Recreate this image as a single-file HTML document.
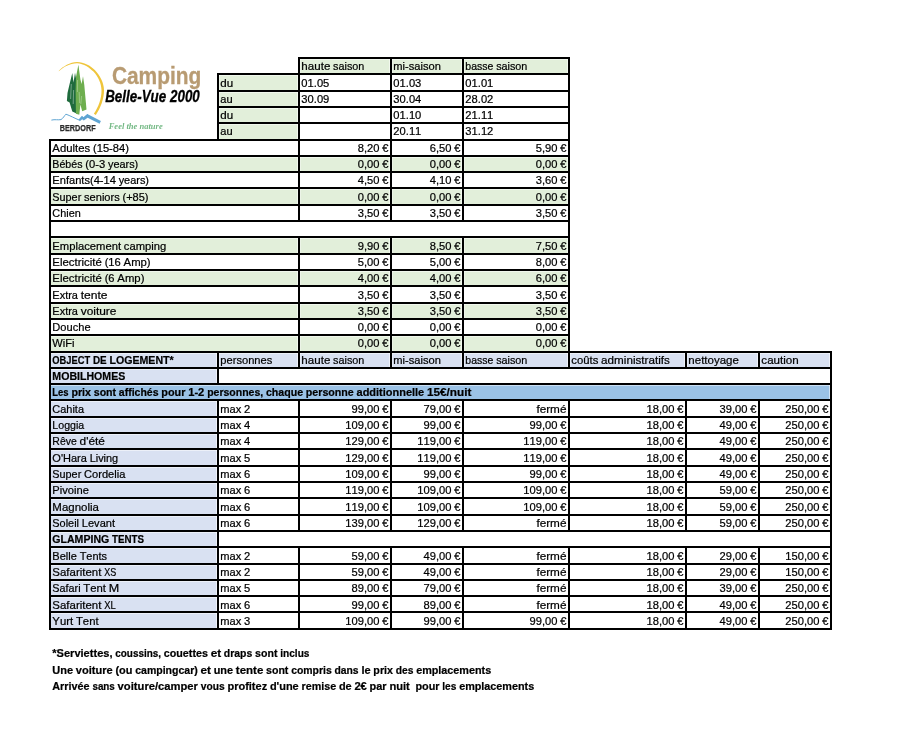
<!DOCTYPE html>
<html lang="fr"><head><meta charset="utf-8"><title>Camping Belle-Vue 2000 - Tarifs</title>
<style>
html,body{margin:0;padding:0;background:#fff;}
body{width:897px;height:747px;overflow:hidden;}
svg{display:block;}
text{font-family:"Liberation Sans",sans-serif;font-kerning:none;font-size:11.4px;fill:#000;stroke:#000;stroke-width:0.22px;}
text.b{font-weight:bold;font-size:11.1px;}
</style></head><body>
<svg width="897" height="747" viewBox="0 0 897 747">
<rect width="897" height="747" fill="#fff"/>
<g id="fills">
<rect x="300.35" y="59.50" width="89.10" height="14.50" fill="#e2efda"/>
<rect x="392.35" y="59.50" width="69.10" height="14.50" fill="#e2efda"/>
<rect x="464.35" y="59.50" width="103.10" height="14.50" fill="#e2efda"/>
<rect x="219.35" y="75.50" width="78.10" height="15.50" fill="#e2efda"/>
<rect x="219.35" y="92.50" width="78.10" height="14.50" fill="#e2efda"/>
<rect x="219.35" y="108.50" width="78.10" height="14.50" fill="#e2efda"/>
<rect x="219.35" y="124.50" width="78.10" height="15.50" fill="#e2efda"/>
<rect x="50.00" y="157.50" width="247.45" height="14.50" fill="#e2efda"/>
<rect x="300.35" y="157.50" width="89.10" height="14.50" fill="#e2efda"/>
<rect x="392.35" y="157.50" width="69.10" height="14.50" fill="#e2efda"/>
<rect x="464.35" y="157.50" width="103.10" height="14.50" fill="#e2efda"/>
<rect x="50.00" y="189.50" width="247.45" height="15.50" fill="#e2efda"/>
<rect x="300.35" y="189.50" width="89.10" height="15.50" fill="#e2efda"/>
<rect x="392.35" y="189.50" width="69.10" height="15.50" fill="#e2efda"/>
<rect x="464.35" y="189.50" width="103.10" height="15.50" fill="#e2efda"/>
<rect x="50.00" y="238.50" width="247.45" height="15.50" fill="#e2efda"/>
<rect x="300.35" y="238.50" width="89.10" height="15.50" fill="#e2efda"/>
<rect x="392.35" y="238.50" width="69.10" height="15.50" fill="#e2efda"/>
<rect x="464.35" y="238.50" width="103.10" height="15.50" fill="#e2efda"/>
<rect x="50.00" y="271.50" width="247.45" height="14.50" fill="#e2efda"/>
<rect x="300.35" y="271.50" width="89.10" height="14.50" fill="#e2efda"/>
<rect x="392.35" y="271.50" width="69.10" height="14.50" fill="#e2efda"/>
<rect x="464.35" y="271.50" width="103.10" height="14.50" fill="#e2efda"/>
<rect x="50.00" y="304.50" width="247.45" height="14.50" fill="#e2efda"/>
<rect x="300.35" y="304.50" width="89.10" height="14.50" fill="#e2efda"/>
<rect x="392.35" y="304.50" width="69.10" height="14.50" fill="#e2efda"/>
<rect x="464.35" y="304.50" width="103.10" height="14.50" fill="#e2efda"/>
<rect x="50.00" y="336.50" width="247.45" height="15.50" fill="#e2efda"/>
<rect x="300.35" y="336.50" width="89.10" height="15.50" fill="#e2efda"/>
<rect x="392.35" y="336.50" width="69.10" height="15.50" fill="#e2efda"/>
<rect x="464.35" y="336.50" width="103.10" height="15.50" fill="#e2efda"/>
<rect x="50.00" y="353.50" width="166.45" height="14.50" fill="#d9e1f2"/>
<rect x="219.35" y="353.50" width="78.10" height="14.50" fill="#d9e1f2"/>
<rect x="300.35" y="353.50" width="89.10" height="14.50" fill="#d9e1f2"/>
<rect x="392.35" y="353.50" width="69.10" height="14.50" fill="#d9e1f2"/>
<rect x="464.35" y="353.50" width="103.10" height="14.50" fill="#d9e1f2"/>
<rect x="570.35" y="353.50" width="114.10" height="14.50" fill="#d9e1f2"/>
<rect x="687.35" y="353.50" width="70.10" height="14.50" fill="#d9e1f2"/>
<rect x="760.35" y="353.50" width="69.10" height="14.50" fill="#d9e1f2"/>
<rect x="50.00" y="369.50" width="166.45" height="14.50" fill="#d9e1f2"/>
<rect x="50.00" y="385.50" width="779.45" height="14.50" fill="#9bc2e6"/>
<rect x="50.00" y="401.50" width="166.45" height="15.50" fill="#d9e1f2"/>
<rect x="50.00" y="418.50" width="166.45" height="14.50" fill="#d9e1f2"/>
<rect x="50.00" y="434.50" width="166.45" height="14.50" fill="#d9e1f2"/>
<rect x="50.00" y="450.50" width="166.45" height="15.50" fill="#d9e1f2"/>
<rect x="50.00" y="467.50" width="166.45" height="14.50" fill="#d9e1f2"/>
<rect x="50.00" y="483.50" width="166.45" height="14.50" fill="#d9e1f2"/>
<rect x="50.00" y="499.50" width="166.45" height="15.50" fill="#d9e1f2"/>
<rect x="50.00" y="516.50" width="166.45" height="14.50" fill="#d9e1f2"/>
<rect x="50.00" y="532.50" width="166.45" height="14.50" fill="#d9e1f2"/>
<rect x="50.00" y="548.50" width="166.45" height="15.50" fill="#d9e1f2"/>
<rect x="50.00" y="565.50" width="166.45" height="14.50" fill="#d9e1f2"/>
<rect x="50.00" y="581.50" width="166.45" height="14.50" fill="#d9e1f2"/>
<rect x="50.00" y="597.50" width="166.45" height="14.50" fill="#d9e1f2"/>
<rect x="50.00" y="613.50" width="166.45" height="15.50" fill="#d9e1f2"/>
</g>
<g id="grid" fill="#000">
<rect x="298.00" y="57.00" width="272.00" height="2"/>
<rect x="217.00" y="73.00" width="353.00" height="2"/>
<rect x="217.00" y="90.00" width="353.00" height="2"/>
<rect x="217.00" y="106.00" width="353.00" height="2"/>
<rect x="217.00" y="122.00" width="353.00" height="2"/>
<rect x="49.00" y="139.00" width="521.00" height="2"/>
<rect x="49.00" y="155.00" width="521.00" height="2"/>
<rect x="49.00" y="171.00" width="521.00" height="2"/>
<rect x="49.00" y="187.00" width="521.00" height="2"/>
<rect x="49.00" y="204.00" width="521.00" height="2"/>
<rect x="49.00" y="220.00" width="521.00" height="2"/>
<rect x="49.00" y="236.00" width="521.00" height="2"/>
<rect x="49.00" y="253.00" width="521.00" height="2"/>
<rect x="49.00" y="269.00" width="521.00" height="2"/>
<rect x="49.00" y="285.00" width="521.00" height="2"/>
<rect x="49.00" y="302.00" width="521.00" height="2"/>
<rect x="49.00" y="318.00" width="521.00" height="2"/>
<rect x="49.00" y="334.00" width="521.00" height="2"/>
<rect x="49.00" y="351.00" width="783.00" height="2"/>
<rect x="49.00" y="367.00" width="783.00" height="2"/>
<rect x="49.00" y="383.00" width="783.00" height="2"/>
<rect x="49.00" y="399.00" width="783.00" height="2"/>
<rect x="49.00" y="416.00" width="783.00" height="2"/>
<rect x="49.00" y="432.00" width="783.00" height="2"/>
<rect x="49.00" y="448.00" width="783.00" height="2"/>
<rect x="49.00" y="465.00" width="783.00" height="2"/>
<rect x="49.00" y="481.00" width="783.00" height="2"/>
<rect x="49.00" y="497.00" width="783.00" height="2"/>
<rect x="49.00" y="514.00" width="783.00" height="2"/>
<rect x="49.00" y="530.00" width="783.00" height="2"/>
<rect x="49.00" y="546.00" width="783.00" height="2"/>
<rect x="49.00" y="563.00" width="783.00" height="2"/>
<rect x="49.00" y="579.00" width="783.00" height="2"/>
<rect x="49.00" y="595.00" width="783.00" height="2"/>
<rect x="49.00" y="611.00" width="783.00" height="2"/>
<rect x="49.00" y="628.00" width="783.00" height="2"/>
<rect x="49.00" y="139.00" width="2" height="491.00"/>
<rect x="217.00" y="73.00" width="2" height="68.00"/>
<rect x="217.00" y="351.00" width="2" height="34.00"/>
<rect x="217.00" y="399.00" width="2" height="231.00"/>
<rect x="298.00" y="57.00" width="2" height="165.00"/>
<rect x="298.00" y="236.00" width="2" height="133.00"/>
<rect x="298.00" y="399.00" width="2" height="133.00"/>
<rect x="298.00" y="546.00" width="2" height="84.00"/>
<rect x="390.00" y="57.00" width="2" height="165.00"/>
<rect x="390.00" y="236.00" width="2" height="133.00"/>
<rect x="390.00" y="399.00" width="2" height="133.00"/>
<rect x="390.00" y="546.00" width="2" height="84.00"/>
<rect x="462.00" y="57.00" width="2" height="165.00"/>
<rect x="462.00" y="236.00" width="2" height="133.00"/>
<rect x="462.00" y="399.00" width="2" height="133.00"/>
<rect x="462.00" y="546.00" width="2" height="84.00"/>
<rect x="568.00" y="57.00" width="2" height="312.00"/>
<rect x="568.00" y="399.00" width="2" height="133.00"/>
<rect x="568.00" y="546.00" width="2" height="84.00"/>
<rect x="685.00" y="351.00" width="2" height="18.00"/>
<rect x="685.00" y="399.00" width="2" height="133.00"/>
<rect x="685.00" y="546.00" width="2" height="84.00"/>
<rect x="758.00" y="351.00" width="2" height="18.00"/>
<rect x="758.00" y="399.00" width="2" height="133.00"/>
<rect x="758.00" y="546.00" width="2" height="84.00"/>
<rect x="830.00" y="351.00" width="2" height="279.00"/>
</g>
<g id="logo">
<path d="M58.7 70.9 C63 66.3 70 62.3 77.1 62.0 C84 62.0 90.5 65.7 94.8 70.1 C100.2 75.9 103.9 83 104.0 90.1 C104.2 98.6 100.6 108.3 95.8 115.0 L93.9 113.7 C98.2 107.4 101.7 98.4 101.5 90.2 C101.4 83.7 98.4 77.0 93.4 71.6 C89.5 67.5 83.8 63.6 77.1 63.2 C70.2 63.1 63.4 66.9 58.9 71.2 Z" fill="#efc53b"/>
<path d="M72.3 73 L73.5 82.5 L75 72.8 L76.3 80 L76.6 113.4 L72.3 111.6 L69.6 102.6 L66.9 100.9 L67.5 93 L69.6 84 Z" fill="#1f6b3d"/>
<path d="M78.4 64.8 L80.4 79.5 L81.6 84 L83 76.3 L84.3 85 L86.5 109.6 L82.2 111.2 L80.4 104.5 L79.3 114.8 L75.9 113.8 L75.6 90 L76 77 Z" fill="#6eae4f"/>
<path d="M71.3 84 L70.6 99 M73.6 90 L73.2 104" stroke="#fff" stroke-width="0.5" fill="none" opacity="0.75"/>
<path d="M79.2 92 L79.6 103 M81.6 96 L80.8 104 M77.6 80 L77.4 92" stroke="#fff" stroke-width="0.5" fill="none" opacity="0.6"/>
<path d="M51.4 120.1 C55 119.2 58 120.2 61 119.6 C63 118.5 64.5 115.5 65.9 114.2 C70 115.5 75 118.5 79.3 120.1 L81.9 116.7 L83.6 118 L87.3 114.7 L89.5 116.3" fill="none" stroke="#5fa5d3" stroke-width="1" stroke-linejoin="round"/>
<path d="M78.6 119.4 L81.9 116 L83.6 117.3 L87.3 113.9 L100.9 121 L99.6 123.8 L87.6 117.8 L83.8 120.6 L82.2 119.2 L79.8 121.2 Z" fill="#5fa5d3"/>
<text x="59.8" y="131.4" textLength="35.8" lengthAdjust="spacingAndGlyphs" style="font-weight:bold;font-size:8.8px;fill:#2b2b2b;stroke:#2b2b2b;stroke-width:0.25px">BERDORF</text>
<text x="111.9" y="83.9" textLength="89.4" lengthAdjust="spacingAndGlyphs" style="font-weight:bold;font-size:23.9px;fill:#b89b72;stroke:#b89b72;stroke-width:0.3px">Camping</text>
<text x="105.2" y="102.2" textLength="94.6" lengthAdjust="spacingAndGlyphs" style="font-weight:bold;font-style:italic;font-size:16.8px;fill:#000;stroke:#000;stroke-width:0.3px">Belle-Vue 2000</text>
<text x="108.7" y="129" textLength="54" lengthAdjust="spacingAndGlyphs" style="font-family:'Liberation Serif',serif;font-style:italic;font-weight:bold;font-size:8.2px;fill:#74b985;stroke:none">Feel the nature</text>

</g>
<g id="labels">
<text y="70"><tspan x="301.35" textLength="28.99" lengthAdjust="spacingAndGlyphs">haute</tspan> <tspan x="333.11" textLength="31.21" lengthAdjust="spacingAndGlyphs">saison</tspan></text>
<text x="393.35" y="70" textLength="47.58" lengthAdjust="spacingAndGlyphs">mi-saison</text>
<text y="70"><tspan x="465.35" textLength="28.03" lengthAdjust="spacingAndGlyphs">basse</tspan> <tspan x="496.15" textLength="31.21" lengthAdjust="spacingAndGlyphs">saison</tspan></text>
<text x="220.35" y="87" textLength="12.89" lengthAdjust="spacingAndGlyphs">du</text>
<text x="301.35" y="87" textLength="27.97" lengthAdjust="spacingAndGlyphs">01.05</text>
<text x="393.35" y="87" textLength="27.97" lengthAdjust="spacingAndGlyphs">01.03</text>
<text x="465.35" y="87" textLength="27.97" lengthAdjust="spacingAndGlyphs">01.01</text>
<text x="220.35" y="103" textLength="12.32" lengthAdjust="spacingAndGlyphs">au</text>
<text x="301.35" y="103" textLength="27.97" lengthAdjust="spacingAndGlyphs">30.09</text>
<text x="393.35" y="103" textLength="27.97" lengthAdjust="spacingAndGlyphs">30.04</text>
<text x="465.35" y="103" textLength="27.97" lengthAdjust="spacingAndGlyphs">28.02</text>
<text x="220.35" y="119" textLength="12.89" lengthAdjust="spacingAndGlyphs">du</text>
<text x="393.35" y="119" textLength="27.97" lengthAdjust="spacingAndGlyphs">01.10</text>
<text x="465.35" y="119" textLength="27.97" lengthAdjust="spacingAndGlyphs">21.11</text>
<text x="220.35" y="135" textLength="12.32" lengthAdjust="spacingAndGlyphs">au</text>
<text x="393.35" y="135" textLength="27.97" lengthAdjust="spacingAndGlyphs">20.11</text>
<text x="465.35" y="135" textLength="27.97" lengthAdjust="spacingAndGlyphs">31.12</text>
<text y="152"><tspan x="52.35" textLength="37.82" lengthAdjust="spacingAndGlyphs">Adultes</tspan> <tspan x="92.95" textLength="36.07" lengthAdjust="spacingAndGlyphs">(15-84)</tspan></text>
<text y="152"><tspan x="357.74" textLength="21.72" lengthAdjust="spacingAndGlyphs">8,20</tspan> <tspan x="382.23" textLength="6.22" lengthAdjust="spacingAndGlyphs">€</tspan></text>
<text y="152"><tspan x="429.74" textLength="21.72" lengthAdjust="spacingAndGlyphs">6,50</tspan> <tspan x="454.23" textLength="6.22" lengthAdjust="spacingAndGlyphs">€</tspan></text>
<text y="152"><tspan x="535.74" textLength="21.72" lengthAdjust="spacingAndGlyphs">5,90</tspan> <tspan x="560.23" textLength="6.22" lengthAdjust="spacingAndGlyphs">€</tspan></text>
<text y="168"><tspan x="52.35" textLength="30.13" lengthAdjust="spacingAndGlyphs">Bébés</tspan> <tspan x="85.25" textLength="19.92" lengthAdjust="spacingAndGlyphs">(0-3</tspan> <tspan x="107.94" textLength="30.33" lengthAdjust="spacingAndGlyphs">years)</tspan></text>
<text y="168"><tspan x="357.74" textLength="21.72" lengthAdjust="spacingAndGlyphs">0,00</tspan> <tspan x="382.23" textLength="6.22" lengthAdjust="spacingAndGlyphs">€</tspan></text>
<text y="168"><tspan x="429.74" textLength="21.72" lengthAdjust="spacingAndGlyphs">0,00</tspan> <tspan x="454.23" textLength="6.22" lengthAdjust="spacingAndGlyphs">€</tspan></text>
<text y="168"><tspan x="535.74" textLength="21.72" lengthAdjust="spacingAndGlyphs">0,00</tspan> <tspan x="560.23" textLength="6.22" lengthAdjust="spacingAndGlyphs">€</tspan></text>
<text y="184"><tspan x="52.35" textLength="63.55" lengthAdjust="spacingAndGlyphs">Enfants(4-14</tspan> <tspan x="118.67" textLength="30.33" lengthAdjust="spacingAndGlyphs">years)</tspan></text>
<text y="184"><tspan x="357.74" textLength="21.72" lengthAdjust="spacingAndGlyphs">4,50</tspan> <tspan x="382.23" textLength="6.22" lengthAdjust="spacingAndGlyphs">€</tspan></text>
<text y="184"><tspan x="429.74" textLength="21.72" lengthAdjust="spacingAndGlyphs">4,10</tspan> <tspan x="454.23" textLength="6.22" lengthAdjust="spacingAndGlyphs">€</tspan></text>
<text y="184"><tspan x="535.74" textLength="21.72" lengthAdjust="spacingAndGlyphs">3,60</tspan> <tspan x="560.23" textLength="6.22" lengthAdjust="spacingAndGlyphs">€</tspan></text>
<text y="201"><tspan x="52.35" textLength="28.91" lengthAdjust="spacingAndGlyphs">Super</tspan> <tspan x="84.04" textLength="35.71" lengthAdjust="spacingAndGlyphs">seniors</tspan> <tspan x="122.53" textLength="25.99" lengthAdjust="spacingAndGlyphs">(+85)</tspan></text>
<text y="201"><tspan x="357.74" textLength="21.72" lengthAdjust="spacingAndGlyphs">0,00</tspan> <tspan x="382.23" textLength="6.22" lengthAdjust="spacingAndGlyphs">€</tspan></text>
<text y="201"><tspan x="429.74" textLength="21.72" lengthAdjust="spacingAndGlyphs">0,00</tspan> <tspan x="454.23" textLength="6.22" lengthAdjust="spacingAndGlyphs">€</tspan></text>
<text y="201"><tspan x="535.74" textLength="21.72" lengthAdjust="spacingAndGlyphs">0,00</tspan> <tspan x="560.23" textLength="6.22" lengthAdjust="spacingAndGlyphs">€</tspan></text>
<text x="52.35" y="217" textLength="28.36" lengthAdjust="spacingAndGlyphs">Chien</text>
<text y="217"><tspan x="357.74" textLength="21.72" lengthAdjust="spacingAndGlyphs">3,50</tspan> <tspan x="382.23" textLength="6.22" lengthAdjust="spacingAndGlyphs">€</tspan></text>
<text y="217"><tspan x="429.74" textLength="21.72" lengthAdjust="spacingAndGlyphs">3,50</tspan> <tspan x="454.23" textLength="6.22" lengthAdjust="spacingAndGlyphs">€</tspan></text>
<text y="217"><tspan x="535.74" textLength="21.72" lengthAdjust="spacingAndGlyphs">3,50</tspan> <tspan x="560.23" textLength="6.22" lengthAdjust="spacingAndGlyphs">€</tspan></text>
<text y="250"><tspan x="52.35" textLength="68.69" lengthAdjust="spacingAndGlyphs">Emplacement</tspan> <tspan x="123.81" textLength="42.35" lengthAdjust="spacingAndGlyphs">camping</tspan></text>
<text y="250"><tspan x="357.74" textLength="21.72" lengthAdjust="spacingAndGlyphs">9,90</tspan> <tspan x="382.23" textLength="6.22" lengthAdjust="spacingAndGlyphs">€</tspan></text>
<text y="250"><tspan x="429.74" textLength="21.72" lengthAdjust="spacingAndGlyphs">8,50</tspan> <tspan x="454.23" textLength="6.22" lengthAdjust="spacingAndGlyphs">€</tspan></text>
<text y="250"><tspan x="535.74" textLength="21.72" lengthAdjust="spacingAndGlyphs">7,50</tspan> <tspan x="560.23" textLength="6.22" lengthAdjust="spacingAndGlyphs">€</tspan></text>
<text y="266"><tspan x="52.35" textLength="49.52" lengthAdjust="spacingAndGlyphs">Electricité</tspan> <tspan x="104.65" textLength="16.16" lengthAdjust="spacingAndGlyphs">(16</tspan> <tspan x="123.58" textLength="27.07" lengthAdjust="spacingAndGlyphs">Amp)</tspan></text>
<text y="266"><tspan x="357.74" textLength="21.72" lengthAdjust="spacingAndGlyphs">5,00</tspan> <tspan x="382.23" textLength="6.22" lengthAdjust="spacingAndGlyphs">€</tspan></text>
<text y="266"><tspan x="429.74" textLength="21.72" lengthAdjust="spacingAndGlyphs">5,00</tspan> <tspan x="454.23" textLength="6.22" lengthAdjust="spacingAndGlyphs">€</tspan></text>
<text y="266"><tspan x="535.74" textLength="21.72" lengthAdjust="spacingAndGlyphs">8,00</tspan> <tspan x="560.23" textLength="6.22" lengthAdjust="spacingAndGlyphs">€</tspan></text>
<text y="282"><tspan x="52.35" textLength="49.52" lengthAdjust="spacingAndGlyphs">Electricité</tspan> <tspan x="104.65" textLength="9.94" lengthAdjust="spacingAndGlyphs">(6</tspan> <tspan x="117.36" textLength="27.07" lengthAdjust="spacingAndGlyphs">Amp)</tspan></text>
<text y="282"><tspan x="357.74" textLength="21.72" lengthAdjust="spacingAndGlyphs">4,00</tspan> <tspan x="382.23" textLength="6.22" lengthAdjust="spacingAndGlyphs">€</tspan></text>
<text y="282"><tspan x="429.74" textLength="21.72" lengthAdjust="spacingAndGlyphs">4,00</tspan> <tspan x="454.23" textLength="6.22" lengthAdjust="spacingAndGlyphs">€</tspan></text>
<text y="282"><tspan x="535.74" textLength="21.72" lengthAdjust="spacingAndGlyphs">6,00</tspan> <tspan x="560.23" textLength="6.22" lengthAdjust="spacingAndGlyphs">€</tspan></text>
<text y="299"><tspan x="52.35" textLength="25.57" lengthAdjust="spacingAndGlyphs">Extra</tspan> <tspan x="80.70" textLength="26.88" lengthAdjust="spacingAndGlyphs">tente</tspan></text>
<text y="299"><tspan x="357.74" textLength="21.72" lengthAdjust="spacingAndGlyphs">3,50</tspan> <tspan x="382.23" textLength="6.22" lengthAdjust="spacingAndGlyphs">€</tspan></text>
<text y="299"><tspan x="429.74" textLength="21.72" lengthAdjust="spacingAndGlyphs">3,50</tspan> <tspan x="454.23" textLength="6.22" lengthAdjust="spacingAndGlyphs">€</tspan></text>
<text y="299"><tspan x="535.74" textLength="21.72" lengthAdjust="spacingAndGlyphs">3,50</tspan> <tspan x="560.23" textLength="6.22" lengthAdjust="spacingAndGlyphs">€</tspan></text>
<text y="315"><tspan x="52.35" textLength="25.57" lengthAdjust="spacingAndGlyphs">Extra</tspan> <tspan x="80.70" textLength="35.77" lengthAdjust="spacingAndGlyphs">voiture</tspan></text>
<text y="315"><tspan x="357.74" textLength="21.72" lengthAdjust="spacingAndGlyphs">3,50</tspan> <tspan x="382.23" textLength="6.22" lengthAdjust="spacingAndGlyphs">€</tspan></text>
<text y="315"><tspan x="429.74" textLength="21.72" lengthAdjust="spacingAndGlyphs">3,50</tspan> <tspan x="454.23" textLength="6.22" lengthAdjust="spacingAndGlyphs">€</tspan></text>
<text y="315"><tspan x="535.74" textLength="21.72" lengthAdjust="spacingAndGlyphs">3,50</tspan> <tspan x="560.23" textLength="6.22" lengthAdjust="spacingAndGlyphs">€</tspan></text>
<text x="52.35" y="331" textLength="38.21" lengthAdjust="spacingAndGlyphs">Douche</text>
<text y="331"><tspan x="357.74" textLength="21.72" lengthAdjust="spacingAndGlyphs">0,00</tspan> <tspan x="382.23" textLength="6.22" lengthAdjust="spacingAndGlyphs">€</tspan></text>
<text y="331"><tspan x="429.74" textLength="21.72" lengthAdjust="spacingAndGlyphs">0,00</tspan> <tspan x="454.23" textLength="6.22" lengthAdjust="spacingAndGlyphs">€</tspan></text>
<text y="331"><tspan x="535.74" textLength="21.72" lengthAdjust="spacingAndGlyphs">0,00</tspan> <tspan x="560.23" textLength="6.22" lengthAdjust="spacingAndGlyphs">€</tspan></text>
<text x="52.35" y="347" textLength="22.19" lengthAdjust="spacingAndGlyphs">WiFi</text>
<text y="347"><tspan x="357.74" textLength="21.72" lengthAdjust="spacingAndGlyphs">0,00</tspan> <tspan x="382.23" textLength="6.22" lengthAdjust="spacingAndGlyphs">€</tspan></text>
<text y="347"><tspan x="429.74" textLength="21.72" lengthAdjust="spacingAndGlyphs">0,00</tspan> <tspan x="454.23" textLength="6.22" lengthAdjust="spacingAndGlyphs">€</tspan></text>
<text y="347"><tspan x="535.74" textLength="21.72" lengthAdjust="spacingAndGlyphs">0,00</tspan> <tspan x="560.23" textLength="6.22" lengthAdjust="spacingAndGlyphs">€</tspan></text>
<text y="364" class="b"><tspan x="52.35" textLength="37.79" lengthAdjust="spacingAndGlyphs">OBJECT</tspan> <tspan x="92.92" textLength="13.72" lengthAdjust="spacingAndGlyphs">DE</tspan> <tspan x="109.41" textLength="64.27" lengthAdjust="spacingAndGlyphs">LOGEMENT*</tspan></text>
<text x="220.35" y="364" textLength="51.90" lengthAdjust="spacingAndGlyphs">personnes</text>
<text y="364"><tspan x="301.35" textLength="28.99" lengthAdjust="spacingAndGlyphs">haute</tspan> <tspan x="333.11" textLength="31.21" lengthAdjust="spacingAndGlyphs">saison</tspan></text>
<text x="393.35" y="364" textLength="47.58" lengthAdjust="spacingAndGlyphs">mi-saison</text>
<text y="364"><tspan x="465.35" textLength="28.03" lengthAdjust="spacingAndGlyphs">basse</tspan> <tspan x="496.15" textLength="31.21" lengthAdjust="spacingAndGlyphs">saison</tspan></text>
<text y="364"><tspan x="571.35" textLength="27.01" lengthAdjust="spacingAndGlyphs">coûts</tspan> <tspan x="601.14" textLength="68.74" lengthAdjust="spacingAndGlyphs">administratifs</tspan></text>
<text x="688.35" y="364" textLength="50.55" lengthAdjust="spacingAndGlyphs">nettoyage</text>
<text x="761.35" y="364" textLength="37.36" lengthAdjust="spacingAndGlyphs">caution</text>
<text x="52.35" y="380" textLength="72.91" lengthAdjust="spacingAndGlyphs" class="b">MOBILHOMES</text>
<text y="396" class="b"><tspan x="52.35" textLength="16.26" lengthAdjust="spacingAndGlyphs">Les</tspan> <tspan x="71.38" textLength="19.60" lengthAdjust="spacingAndGlyphs">prix</tspan> <tspan x="93.76" textLength="22.33" lengthAdjust="spacingAndGlyphs">sont</tspan> <tspan x="118.86" textLength="39.63" lengthAdjust="spacingAndGlyphs">affichés</tspan> <tspan x="161.26" textLength="24.13" lengthAdjust="spacingAndGlyphs">pour</tspan> <tspan x="188.16" textLength="16.19" lengthAdjust="spacingAndGlyphs">1-2</tspan> <tspan x="207.13" textLength="56.02" lengthAdjust="spacingAndGlyphs">personnes,</tspan> <tspan x="265.93" textLength="37.12" lengthAdjust="spacingAndGlyphs">chaque</tspan> <tspan x="305.82" textLength="47.96" lengthAdjust="spacingAndGlyphs">personne</tspan> <tspan x="356.56" textLength="67.66" lengthAdjust="spacingAndGlyphs">additionnelle</tspan> <tspan x="426.99" textLength="44.37" lengthAdjust="spacingAndGlyphs">15€/nuit</tspan></text>
<text x="52.35" y="413" textLength="31.67" lengthAdjust="spacingAndGlyphs">Cahita</text>
<text y="413"><tspan x="220.35" textLength="20.99" lengthAdjust="spacingAndGlyphs">max</tspan> <tspan x="244.12" textLength="6.22" lengthAdjust="spacingAndGlyphs">2</tspan></text>
<text y="413"><tspan x="351.52" textLength="27.94" lengthAdjust="spacingAndGlyphs">99,00</tspan> <tspan x="382.23" textLength="6.22" lengthAdjust="spacingAndGlyphs">€</tspan></text>
<text y="413"><tspan x="423.52" textLength="27.94" lengthAdjust="spacingAndGlyphs">79,00</tspan> <tspan x="454.23" textLength="6.22" lengthAdjust="spacingAndGlyphs">€</tspan></text>
<text x="536.42" y="413" textLength="30.03" lengthAdjust="spacingAndGlyphs">fermé</text>
<text y="413"><tspan x="646.52" textLength="27.94" lengthAdjust="spacingAndGlyphs">18,00</tspan> <tspan x="677.23" textLength="6.22" lengthAdjust="spacingAndGlyphs">€</tspan></text>
<text y="413"><tspan x="719.52" textLength="27.94" lengthAdjust="spacingAndGlyphs">39,00</tspan> <tspan x="750.23" textLength="6.22" lengthAdjust="spacingAndGlyphs">€</tspan></text>
<text y="413"><tspan x="785.30" textLength="34.16" lengthAdjust="spacingAndGlyphs">250,00</tspan> <tspan x="822.23" textLength="6.22" lengthAdjust="spacingAndGlyphs">€</tspan></text>
<text x="52.35" y="429" textLength="31.87" lengthAdjust="spacingAndGlyphs">Loggia</text>
<text y="429"><tspan x="220.35" textLength="20.99" lengthAdjust="spacingAndGlyphs">max</tspan> <tspan x="244.12" textLength="6.22" lengthAdjust="spacingAndGlyphs">4</tspan></text>
<text y="429"><tspan x="345.30" textLength="34.16" lengthAdjust="spacingAndGlyphs">109,00</tspan> <tspan x="382.23" textLength="6.22" lengthAdjust="spacingAndGlyphs">€</tspan></text>
<text y="429"><tspan x="423.52" textLength="27.94" lengthAdjust="spacingAndGlyphs">99,00</tspan> <tspan x="454.23" textLength="6.22" lengthAdjust="spacingAndGlyphs">€</tspan></text>
<text y="429"><tspan x="529.52" textLength="27.94" lengthAdjust="spacingAndGlyphs">99,00</tspan> <tspan x="560.23" textLength="6.22" lengthAdjust="spacingAndGlyphs">€</tspan></text>
<text y="429"><tspan x="646.52" textLength="27.94" lengthAdjust="spacingAndGlyphs">18,00</tspan> <tspan x="677.23" textLength="6.22" lengthAdjust="spacingAndGlyphs">€</tspan></text>
<text y="429"><tspan x="719.52" textLength="27.94" lengthAdjust="spacingAndGlyphs">49,00</tspan> <tspan x="750.23" textLength="6.22" lengthAdjust="spacingAndGlyphs">€</tspan></text>
<text y="429"><tspan x="785.30" textLength="34.16" lengthAdjust="spacingAndGlyphs">250,00</tspan> <tspan x="822.23" textLength="6.22" lengthAdjust="spacingAndGlyphs">€</tspan></text>
<text y="445"><tspan x="52.35" textLength="24.41" lengthAdjust="spacingAndGlyphs">Rêve</tspan> <tspan x="79.54" textLength="25.48" lengthAdjust="spacingAndGlyphs">d'été</tspan></text>
<text y="445"><tspan x="220.35" textLength="20.99" lengthAdjust="spacingAndGlyphs">max</tspan> <tspan x="244.12" textLength="6.22" lengthAdjust="spacingAndGlyphs">4</tspan></text>
<text y="445"><tspan x="345.30" textLength="34.16" lengthAdjust="spacingAndGlyphs">129,00</tspan> <tspan x="382.23" textLength="6.22" lengthAdjust="spacingAndGlyphs">€</tspan></text>
<text y="445"><tspan x="417.30" textLength="34.16" lengthAdjust="spacingAndGlyphs">119,00</tspan> <tspan x="454.23" textLength="6.22" lengthAdjust="spacingAndGlyphs">€</tspan></text>
<text y="445"><tspan x="523.30" textLength="34.16" lengthAdjust="spacingAndGlyphs">119,00</tspan> <tspan x="560.23" textLength="6.22" lengthAdjust="spacingAndGlyphs">€</tspan></text>
<text y="445"><tspan x="646.52" textLength="27.94" lengthAdjust="spacingAndGlyphs">18,00</tspan> <tspan x="677.23" textLength="6.22" lengthAdjust="spacingAndGlyphs">€</tspan></text>
<text y="445"><tspan x="719.52" textLength="27.94" lengthAdjust="spacingAndGlyphs">49,00</tspan> <tspan x="750.23" textLength="6.22" lengthAdjust="spacingAndGlyphs">€</tspan></text>
<text y="445"><tspan x="785.30" textLength="34.16" lengthAdjust="spacingAndGlyphs">250,00</tspan> <tspan x="822.23" textLength="6.22" lengthAdjust="spacingAndGlyphs">€</tspan></text>
<text y="462"><tspan x="52.35" textLength="34.51" lengthAdjust="spacingAndGlyphs">O'Hara</tspan> <tspan x="89.63" textLength="28.55" lengthAdjust="spacingAndGlyphs">Living</tspan></text>
<text y="462"><tspan x="220.35" textLength="20.99" lengthAdjust="spacingAndGlyphs">max</tspan> <tspan x="244.12" textLength="6.22" lengthAdjust="spacingAndGlyphs">5</tspan></text>
<text y="462"><tspan x="345.30" textLength="34.16" lengthAdjust="spacingAndGlyphs">129,00</tspan> <tspan x="382.23" textLength="6.22" lengthAdjust="spacingAndGlyphs">€</tspan></text>
<text y="462"><tspan x="417.30" textLength="34.16" lengthAdjust="spacingAndGlyphs">119,00</tspan> <tspan x="454.23" textLength="6.22" lengthAdjust="spacingAndGlyphs">€</tspan></text>
<text y="462"><tspan x="523.30" textLength="34.16" lengthAdjust="spacingAndGlyphs">119,00</tspan> <tspan x="560.23" textLength="6.22" lengthAdjust="spacingAndGlyphs">€</tspan></text>
<text y="462"><tspan x="646.52" textLength="27.94" lengthAdjust="spacingAndGlyphs">18,00</tspan> <tspan x="677.23" textLength="6.22" lengthAdjust="spacingAndGlyphs">€</tspan></text>
<text y="462"><tspan x="719.52" textLength="27.94" lengthAdjust="spacingAndGlyphs">49,00</tspan> <tspan x="750.23" textLength="6.22" lengthAdjust="spacingAndGlyphs">€</tspan></text>
<text y="462"><tspan x="785.30" textLength="34.16" lengthAdjust="spacingAndGlyphs">250,00</tspan> <tspan x="822.23" textLength="6.22" lengthAdjust="spacingAndGlyphs">€</tspan></text>
<text y="478"><tspan x="52.35" textLength="28.91" lengthAdjust="spacingAndGlyphs">Super</tspan> <tspan x="84.04" textLength="41.35" lengthAdjust="spacingAndGlyphs">Cordelia</tspan></text>
<text y="478"><tspan x="220.35" textLength="20.99" lengthAdjust="spacingAndGlyphs">max</tspan> <tspan x="244.12" textLength="6.22" lengthAdjust="spacingAndGlyphs">6</tspan></text>
<text y="478"><tspan x="345.30" textLength="34.16" lengthAdjust="spacingAndGlyphs">109,00</tspan> <tspan x="382.23" textLength="6.22" lengthAdjust="spacingAndGlyphs">€</tspan></text>
<text y="478"><tspan x="423.52" textLength="27.94" lengthAdjust="spacingAndGlyphs">99,00</tspan> <tspan x="454.23" textLength="6.22" lengthAdjust="spacingAndGlyphs">€</tspan></text>
<text y="478"><tspan x="529.52" textLength="27.94" lengthAdjust="spacingAndGlyphs">99,00</tspan> <tspan x="560.23" textLength="6.22" lengthAdjust="spacingAndGlyphs">€</tspan></text>
<text y="478"><tspan x="646.52" textLength="27.94" lengthAdjust="spacingAndGlyphs">18,00</tspan> <tspan x="677.23" textLength="6.22" lengthAdjust="spacingAndGlyphs">€</tspan></text>
<text y="478"><tspan x="719.52" textLength="27.94" lengthAdjust="spacingAndGlyphs">49,00</tspan> <tspan x="750.23" textLength="6.22" lengthAdjust="spacingAndGlyphs">€</tspan></text>
<text y="478"><tspan x="785.30" textLength="34.16" lengthAdjust="spacingAndGlyphs">250,00</tspan> <tspan x="822.23" textLength="6.22" lengthAdjust="spacingAndGlyphs">€</tspan></text>
<text x="52.35" y="494" textLength="36.53" lengthAdjust="spacingAndGlyphs">Pivoine</text>
<text y="494"><tspan x="220.35" textLength="20.99" lengthAdjust="spacingAndGlyphs">max</tspan> <tspan x="244.12" textLength="6.22" lengthAdjust="spacingAndGlyphs">6</tspan></text>
<text y="494"><tspan x="345.30" textLength="34.16" lengthAdjust="spacingAndGlyphs">119,00</tspan> <tspan x="382.23" textLength="6.22" lengthAdjust="spacingAndGlyphs">€</tspan></text>
<text y="494"><tspan x="417.30" textLength="34.16" lengthAdjust="spacingAndGlyphs">109,00</tspan> <tspan x="454.23" textLength="6.22" lengthAdjust="spacingAndGlyphs">€</tspan></text>
<text y="494"><tspan x="523.30" textLength="34.16" lengthAdjust="spacingAndGlyphs">109,00</tspan> <tspan x="560.23" textLength="6.22" lengthAdjust="spacingAndGlyphs">€</tspan></text>
<text y="494"><tspan x="646.52" textLength="27.94" lengthAdjust="spacingAndGlyphs">18,00</tspan> <tspan x="677.23" textLength="6.22" lengthAdjust="spacingAndGlyphs">€</tspan></text>
<text y="494"><tspan x="719.52" textLength="27.94" lengthAdjust="spacingAndGlyphs">59,00</tspan> <tspan x="750.23" textLength="6.22" lengthAdjust="spacingAndGlyphs">€</tspan></text>
<text y="494"><tspan x="785.30" textLength="34.16" lengthAdjust="spacingAndGlyphs">250,00</tspan> <tspan x="822.23" textLength="6.22" lengthAdjust="spacingAndGlyphs">€</tspan></text>
<text x="52.35" y="511" textLength="46.57" lengthAdjust="spacingAndGlyphs">Magnolia</text>
<text y="511"><tspan x="220.35" textLength="20.99" lengthAdjust="spacingAndGlyphs">max</tspan> <tspan x="244.12" textLength="6.22" lengthAdjust="spacingAndGlyphs">6</tspan></text>
<text y="511"><tspan x="345.30" textLength="34.16" lengthAdjust="spacingAndGlyphs">119,00</tspan> <tspan x="382.23" textLength="6.22" lengthAdjust="spacingAndGlyphs">€</tspan></text>
<text y="511"><tspan x="417.30" textLength="34.16" lengthAdjust="spacingAndGlyphs">109,00</tspan> <tspan x="454.23" textLength="6.22" lengthAdjust="spacingAndGlyphs">€</tspan></text>
<text y="511"><tspan x="523.30" textLength="34.16" lengthAdjust="spacingAndGlyphs">109,00</tspan> <tspan x="560.23" textLength="6.22" lengthAdjust="spacingAndGlyphs">€</tspan></text>
<text y="511"><tspan x="646.52" textLength="27.94" lengthAdjust="spacingAndGlyphs">18,00</tspan> <tspan x="677.23" textLength="6.22" lengthAdjust="spacingAndGlyphs">€</tspan></text>
<text y="511"><tspan x="719.52" textLength="27.94" lengthAdjust="spacingAndGlyphs">59,00</tspan> <tspan x="750.23" textLength="6.22" lengthAdjust="spacingAndGlyphs">€</tspan></text>
<text y="511"><tspan x="785.30" textLength="34.16" lengthAdjust="spacingAndGlyphs">250,00</tspan> <tspan x="822.23" textLength="6.22" lengthAdjust="spacingAndGlyphs">€</tspan></text>
<text y="527"><tspan x="52.35" textLength="26.66" lengthAdjust="spacingAndGlyphs">Soleil</tspan> <tspan x="81.79" textLength="33.24" lengthAdjust="spacingAndGlyphs">Levant</tspan></text>
<text y="527"><tspan x="220.35" textLength="20.99" lengthAdjust="spacingAndGlyphs">max</tspan> <tspan x="244.12" textLength="6.22" lengthAdjust="spacingAndGlyphs">6</tspan></text>
<text y="527"><tspan x="345.30" textLength="34.16" lengthAdjust="spacingAndGlyphs">139,00</tspan> <tspan x="382.23" textLength="6.22" lengthAdjust="spacingAndGlyphs">€</tspan></text>
<text y="527"><tspan x="417.30" textLength="34.16" lengthAdjust="spacingAndGlyphs">129,00</tspan> <tspan x="454.23" textLength="6.22" lengthAdjust="spacingAndGlyphs">€</tspan></text>
<text x="536.42" y="527" textLength="30.03" lengthAdjust="spacingAndGlyphs">fermé</text>
<text y="527"><tspan x="646.52" textLength="27.94" lengthAdjust="spacingAndGlyphs">18,00</tspan> <tspan x="677.23" textLength="6.22" lengthAdjust="spacingAndGlyphs">€</tspan></text>
<text y="527"><tspan x="719.52" textLength="27.94" lengthAdjust="spacingAndGlyphs">59,00</tspan> <tspan x="750.23" textLength="6.22" lengthAdjust="spacingAndGlyphs">€</tspan></text>
<text y="527"><tspan x="785.30" textLength="34.16" lengthAdjust="spacingAndGlyphs">250,00</tspan> <tspan x="822.23" textLength="6.22" lengthAdjust="spacingAndGlyphs">€</tspan></text>
<text y="543" class="b"><tspan x="52.35" textLength="56.87" lengthAdjust="spacingAndGlyphs">GLAMPING</tspan> <tspan x="111.99" textLength="32.02" lengthAdjust="spacingAndGlyphs">TENTS</tspan></text>
<text y="560"><tspan x="52.35" textLength="24.52" lengthAdjust="spacingAndGlyphs">Belle</tspan> <tspan x="79.64" textLength="27.44" lengthAdjust="spacingAndGlyphs">Tents</tspan></text>
<text y="560"><tspan x="220.35" textLength="20.99" lengthAdjust="spacingAndGlyphs">max</tspan> <tspan x="244.12" textLength="6.22" lengthAdjust="spacingAndGlyphs">2</tspan></text>
<text y="560"><tspan x="351.52" textLength="27.94" lengthAdjust="spacingAndGlyphs">59,00</tspan> <tspan x="382.23" textLength="6.22" lengthAdjust="spacingAndGlyphs">€</tspan></text>
<text y="560"><tspan x="423.52" textLength="27.94" lengthAdjust="spacingAndGlyphs">49,00</tspan> <tspan x="454.23" textLength="6.22" lengthAdjust="spacingAndGlyphs">€</tspan></text>
<text x="536.42" y="560" textLength="30.03" lengthAdjust="spacingAndGlyphs">fermé</text>
<text y="560"><tspan x="646.52" textLength="27.94" lengthAdjust="spacingAndGlyphs">18,00</tspan> <tspan x="677.23" textLength="6.22" lengthAdjust="spacingAndGlyphs">€</tspan></text>
<text y="560"><tspan x="719.52" textLength="27.94" lengthAdjust="spacingAndGlyphs">29,00</tspan> <tspan x="750.23" textLength="6.22" lengthAdjust="spacingAndGlyphs">€</tspan></text>
<text y="560"><tspan x="785.30" textLength="34.16" lengthAdjust="spacingAndGlyphs">150,00</tspan> <tspan x="822.23" textLength="6.22" lengthAdjust="spacingAndGlyphs">€</tspan></text>
<text y="576"><tspan x="52.35" textLength="49.00" lengthAdjust="spacingAndGlyphs">Safaritent</tspan> <tspan x="104.13" textLength="12.01" lengthAdjust="spacingAndGlyphs">XS</tspan></text>
<text y="576"><tspan x="220.35" textLength="20.99" lengthAdjust="spacingAndGlyphs">max</tspan> <tspan x="244.12" textLength="6.22" lengthAdjust="spacingAndGlyphs">2</tspan></text>
<text y="576"><tspan x="351.52" textLength="27.94" lengthAdjust="spacingAndGlyphs">59,00</tspan> <tspan x="382.23" textLength="6.22" lengthAdjust="spacingAndGlyphs">€</tspan></text>
<text y="576"><tspan x="423.52" textLength="27.94" lengthAdjust="spacingAndGlyphs">49,00</tspan> <tspan x="454.23" textLength="6.22" lengthAdjust="spacingAndGlyphs">€</tspan></text>
<text x="536.42" y="576" textLength="30.03" lengthAdjust="spacingAndGlyphs">fermé</text>
<text y="576"><tspan x="646.52" textLength="27.94" lengthAdjust="spacingAndGlyphs">18,00</tspan> <tspan x="677.23" textLength="6.22" lengthAdjust="spacingAndGlyphs">€</tspan></text>
<text y="576"><tspan x="719.52" textLength="27.94" lengthAdjust="spacingAndGlyphs">29,00</tspan> <tspan x="750.23" textLength="6.22" lengthAdjust="spacingAndGlyphs">€</tspan></text>
<text y="576"><tspan x="785.30" textLength="34.16" lengthAdjust="spacingAndGlyphs">150,00</tspan> <tspan x="822.23" textLength="6.22" lengthAdjust="spacingAndGlyphs">€</tspan></text>
<text y="592"><tspan x="52.35" textLength="28.23" lengthAdjust="spacingAndGlyphs">Safari</tspan> <tspan x="83.36" textLength="22.64" lengthAdjust="spacingAndGlyphs">Tent</tspan> <tspan x="108.77" textLength="10.49" lengthAdjust="spacingAndGlyphs">M</tspan></text>
<text y="592"><tspan x="220.35" textLength="20.99" lengthAdjust="spacingAndGlyphs">max</tspan> <tspan x="244.12" textLength="6.22" lengthAdjust="spacingAndGlyphs">5</tspan></text>
<text y="592"><tspan x="351.52" textLength="27.94" lengthAdjust="spacingAndGlyphs">89,00</tspan> <tspan x="382.23" textLength="6.22" lengthAdjust="spacingAndGlyphs">€</tspan></text>
<text y="592"><tspan x="423.52" textLength="27.94" lengthAdjust="spacingAndGlyphs">79,00</tspan> <tspan x="454.23" textLength="6.22" lengthAdjust="spacingAndGlyphs">€</tspan></text>
<text x="536.42" y="592" textLength="30.03" lengthAdjust="spacingAndGlyphs">fermé</text>
<text y="592"><tspan x="646.52" textLength="27.94" lengthAdjust="spacingAndGlyphs">18,00</tspan> <tspan x="677.23" textLength="6.22" lengthAdjust="spacingAndGlyphs">€</tspan></text>
<text y="592"><tspan x="719.52" textLength="27.94" lengthAdjust="spacingAndGlyphs">39,00</tspan> <tspan x="750.23" textLength="6.22" lengthAdjust="spacingAndGlyphs">€</tspan></text>
<text y="592"><tspan x="785.30" textLength="34.16" lengthAdjust="spacingAndGlyphs">250,00</tspan> <tspan x="822.23" textLength="6.22" lengthAdjust="spacingAndGlyphs">€</tspan></text>
<text y="609"><tspan x="52.35" textLength="49.00" lengthAdjust="spacingAndGlyphs">Safaritent</tspan> <tspan x="104.13" textLength="11.53" lengthAdjust="spacingAndGlyphs">XL</tspan></text>
<text y="609"><tspan x="220.35" textLength="20.99" lengthAdjust="spacingAndGlyphs">max</tspan> <tspan x="244.12" textLength="6.22" lengthAdjust="spacingAndGlyphs">6</tspan></text>
<text y="609"><tspan x="351.52" textLength="27.94" lengthAdjust="spacingAndGlyphs">99,00</tspan> <tspan x="382.23" textLength="6.22" lengthAdjust="spacingAndGlyphs">€</tspan></text>
<text y="609"><tspan x="423.52" textLength="27.94" lengthAdjust="spacingAndGlyphs">89,00</tspan> <tspan x="454.23" textLength="6.22" lengthAdjust="spacingAndGlyphs">€</tspan></text>
<text x="536.42" y="609" textLength="30.03" lengthAdjust="spacingAndGlyphs">fermé</text>
<text y="609"><tspan x="646.52" textLength="27.94" lengthAdjust="spacingAndGlyphs">18,00</tspan> <tspan x="677.23" textLength="6.22" lengthAdjust="spacingAndGlyphs">€</tspan></text>
<text y="609"><tspan x="719.52" textLength="27.94" lengthAdjust="spacingAndGlyphs">49,00</tspan> <tspan x="750.23" textLength="6.22" lengthAdjust="spacingAndGlyphs">€</tspan></text>
<text y="609"><tspan x="785.30" textLength="34.16" lengthAdjust="spacingAndGlyphs">250,00</tspan> <tspan x="822.23" textLength="6.22" lengthAdjust="spacingAndGlyphs">€</tspan></text>
<text y="625"><tspan x="52.35" textLength="20.81" lengthAdjust="spacingAndGlyphs">Yurt</tspan> <tspan x="75.94" textLength="22.64" lengthAdjust="spacingAndGlyphs">Tent</tspan></text>
<text y="625"><tspan x="220.35" textLength="20.99" lengthAdjust="spacingAndGlyphs">max</tspan> <tspan x="244.12" textLength="6.22" lengthAdjust="spacingAndGlyphs">3</tspan></text>
<text y="625"><tspan x="345.30" textLength="34.16" lengthAdjust="spacingAndGlyphs">109,00</tspan> <tspan x="382.23" textLength="6.22" lengthAdjust="spacingAndGlyphs">€</tspan></text>
<text y="625"><tspan x="423.52" textLength="27.94" lengthAdjust="spacingAndGlyphs">99,00</tspan> <tspan x="454.23" textLength="6.22" lengthAdjust="spacingAndGlyphs">€</tspan></text>
<text y="625"><tspan x="529.52" textLength="27.94" lengthAdjust="spacingAndGlyphs">99,00</tspan> <tspan x="560.23" textLength="6.22" lengthAdjust="spacingAndGlyphs">€</tspan></text>
<text y="625"><tspan x="646.52" textLength="27.94" lengthAdjust="spacingAndGlyphs">18,00</tspan> <tspan x="677.23" textLength="6.22" lengthAdjust="spacingAndGlyphs">€</tspan></text>
<text y="625"><tspan x="719.52" textLength="27.94" lengthAdjust="spacingAndGlyphs">49,00</tspan> <tspan x="750.23" textLength="6.22" lengthAdjust="spacingAndGlyphs">€</tspan></text>
<text y="625"><tspan x="785.30" textLength="34.16" lengthAdjust="spacingAndGlyphs">250,00</tspan> <tspan x="822.23" textLength="6.22" lengthAdjust="spacingAndGlyphs">€</tspan></text>
<text y="657" class="b"><tspan x="52.30" textLength="60.19" lengthAdjust="spacingAndGlyphs">*Serviettes,</tspan> <tspan x="115.26" textLength="45.76" lengthAdjust="spacingAndGlyphs">coussins,</tspan> <tspan x="163.80" textLength="44.07" lengthAdjust="spacingAndGlyphs">couettes</tspan> <tspan x="210.65" textLength="10.43" lengthAdjust="spacingAndGlyphs">et</tspan> <tspan x="223.85" textLength="28.48" lengthAdjust="spacingAndGlyphs">draps</tspan> <tspan x="255.11" textLength="22.33" lengthAdjust="spacingAndGlyphs">sont</tspan> <tspan x="280.21" textLength="29.23" lengthAdjust="spacingAndGlyphs">inclus</tspan></text>
<text y="674" class="b"><tspan x="52.30" textLength="20.77" lengthAdjust="spacingAndGlyphs">Une</tspan> <tspan x="75.85" textLength="36.79" lengthAdjust="spacingAndGlyphs">voiture</tspan> <tspan x="115.41" textLength="17.00" lengthAdjust="spacingAndGlyphs">(ou</tspan> <tspan x="135.19" textLength="62.55" lengthAdjust="spacingAndGlyphs">campingcar)</tspan> <tspan x="200.52" textLength="10.43" lengthAdjust="spacingAndGlyphs">et</tspan> <tspan x="213.72" textLength="19.35" lengthAdjust="spacingAndGlyphs">une</tspan> <tspan x="235.84" textLength="27.45" lengthAdjust="spacingAndGlyphs">tente</tspan> <tspan x="266.06" textLength="22.33" lengthAdjust="spacingAndGlyphs">sont</tspan> <tspan x="291.17" textLength="40.57" lengthAdjust="spacingAndGlyphs">compris</tspan> <tspan x="334.51" textLength="24.12" lengthAdjust="spacingAndGlyphs">dans</tspan> <tspan x="361.40" textLength="9.19" lengthAdjust="spacingAndGlyphs">le</tspan> <tspan x="373.37" textLength="19.60" lengthAdjust="spacingAndGlyphs">prix</tspan> <tspan x="395.74" textLength="17.66" lengthAdjust="spacingAndGlyphs">des</tspan> <tspan x="416.17" textLength="75.02" lengthAdjust="spacingAndGlyphs">emplacements</tspan></text>
<text y="690" class="b"><tspan x="52.30" textLength="37.33" lengthAdjust="spacingAndGlyphs">Arrivée</tspan> <tspan x="92.41" textLength="22.43" lengthAdjust="spacingAndGlyphs">sans</tspan> <tspan x="117.61" textLength="80.36" lengthAdjust="spacingAndGlyphs">voiture/camper</tspan> <tspan x="200.75" textLength="23.88" lengthAdjust="spacingAndGlyphs">vous</tspan> <tspan x="227.41" textLength="39.75" lengthAdjust="spacingAndGlyphs">profitez</tspan> <tspan x="269.93" textLength="28.79" lengthAdjust="spacingAndGlyphs">d'une</tspan> <tspan x="301.50" textLength="34.61" lengthAdjust="spacingAndGlyphs">remise</tspan> <tspan x="338.88" textLength="12.76" lengthAdjust="spacingAndGlyphs">de</tspan> <tspan x="354.41" textLength="12.44" lengthAdjust="spacingAndGlyphs">2€</tspan> <tspan x="369.62" textLength="17.00" lengthAdjust="spacingAndGlyphs">par</tspan> <tspan x="389.40" textLength="20.44" lengthAdjust="spacingAndGlyphs">nuit</tspan> <tspan x="415.39" textLength="24.13" lengthAdjust="spacingAndGlyphs">pour</tspan> <tspan x="442.29" textLength="14.09" lengthAdjust="spacingAndGlyphs">les</tspan> <tspan x="459.15" textLength="75.02" lengthAdjust="spacingAndGlyphs">emplacements</tspan></text>
</g>
</svg>
</body></html>
